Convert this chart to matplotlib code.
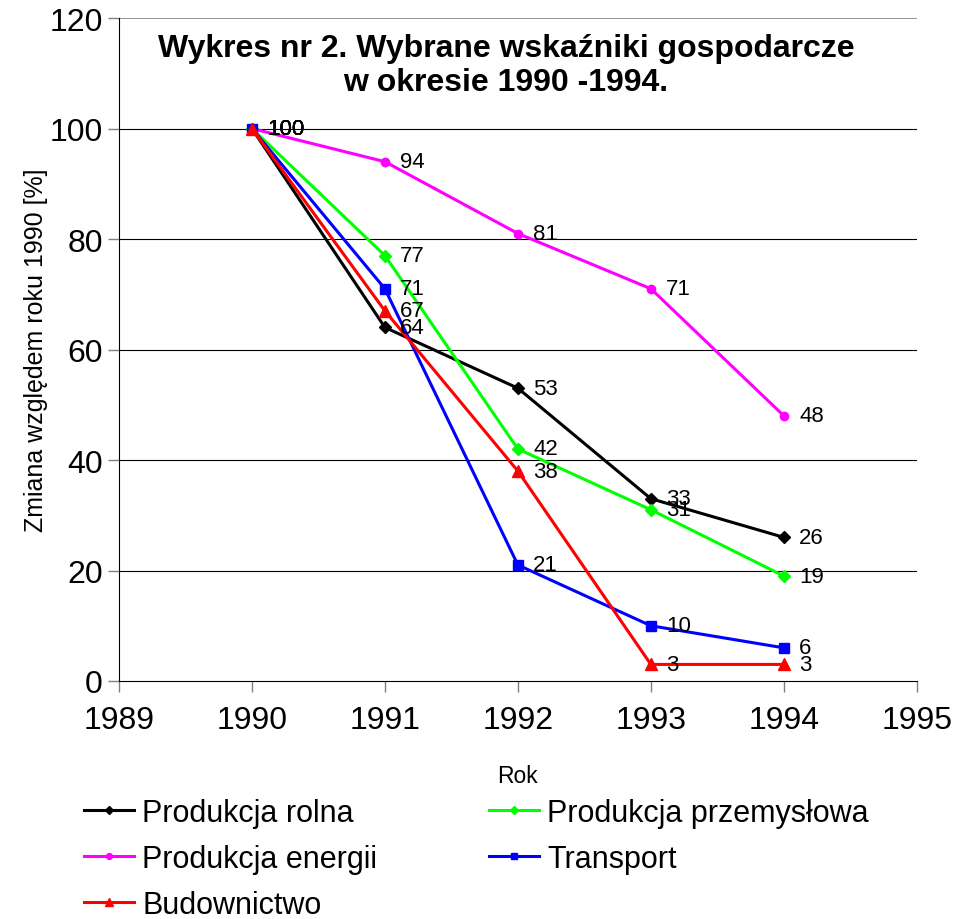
import matplotlib
matplotlib.use("Agg")
import matplotlib.pyplot as plt

plt.rcParams['font.family'] = ['Liberation Sans', 'DejaVu Sans']

years = [1990, 1991, 1992, 1993, 1994]
rolna = [100, 64, 53, 33, 26]
przemyslowa = [100, 77, 42, 31, 19]
energii = [100, 94, 81, 71, 48]
transport = [100, 71, 21, 10, 6]
budownictwo = [100, 67, 38, 3, 3]

series = [
    ("Produkcja rolna", rolna, "#000000", "D", 6),
    ("Produkcja przemysłowa", przemyslowa, "#00FF00", "D", 6),
    ("Produkcja energii", energii, "#FF00FF", "o", 6),
    ("Transport", transport, "#0000FF", "s", 6.5),
    ("Budownictwo", budownictwo, "#FF0000", "^", 8),
]

fig = plt.figure(figsize=(9.57, 9.2), dpi=100)
ax = fig.add_axes([0.1243, 0.2587, 0.958 - 0.1243, 0.9793 - 0.2587])

handles = {}
for name, vals, color, mk, ms in series:
    h, = ax.plot(years, vals, color=color, lw=2.2, marker=mk, ms=ms,
                 markeredgecolor=color, markerfacecolor=color, label=name, zorder=3)
    handles[name] = h
    for x, y in zip(years, vals):
        ax.annotate(str(y), (x, y), xytext=(11, 0), textcoords='offset points',
                    va='center', ha='left', fontsize=16, color='black', zorder=4)

ax.set_xlim(1989, 1995)
ax.set_ylim(0, 120)
ax.set_xticks([1989, 1990, 1991, 1992, 1993, 1994, 1995])
ax.set_yticks([0, 20, 40, 60, 80, 100, 120])
ax.tick_params(axis='both', labelsize=23, direction='out', length=8, width=1, color='#808080')
ax.tick_params(axis='x', pad=9)
for y in [20, 40, 60, 80, 100]:
    ax.axhline(y, color='black', lw=0.8, zorder=1)
ax.axhline(120, color='#808080', lw=1.2, zorder=1)
ax.spines['top'].set_visible(False)
ax.spines['right'].set_visible(False)
ax.spines['left'].set_color('black')
ax.spines['bottom'].set_color('black')

ax.set_xlabel("Rok", fontsize=16.5, labelpad=21)
ax.set_ylabel("Zmiana względem roku 1990 [%]", fontsize=18, labelpad=1)

ax.text(0.485, 0.977, "Wykres nr 2. Wybrane wskaźniki gospodarcze\nw okresie 1990 -1994.",
        transform=ax.transAxes, ha='center', va='top', fontsize=23, fontweight='bold',
        linespacing=1.15)

order = ["Produkcja rolna", "Produkcja energii", "Budownictwo",
         "Produkcja przemysłowa", "Transport"]
leg = fig.legend([handles[n] for n in order], order, ncol=2, loc='upper left',
                 bbox_to_anchor=(0.075, 0.145), frameon=False, fontsize=22,
                 handlelength=1.64, markerscale=0.7, columnspacing=3.67,
                 labelspacing=0.52, handletextpad=0.26, borderaxespad=0)

fig.savefig("out.png", dpi=100)
